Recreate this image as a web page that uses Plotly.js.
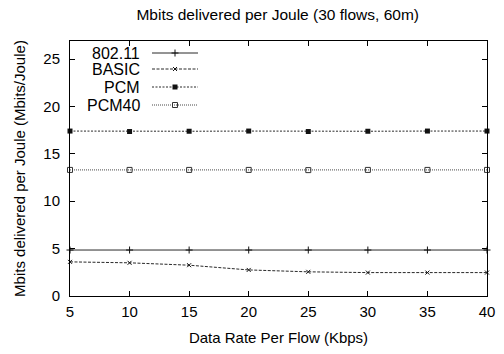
<!DOCTYPE html>
<html><head><meta charset="utf-8">
<script src="https://cdn.plot.ly/plotly-3.0.1.min.js"></script>
<style>html,body{margin:0;padding:0;background:#fff}#chart{width:504px;height:354px}</style>
</head><body><div id="chart"></div>
<script>
const rates = [5, 10, 15, 20, 25, 30, 35, 40];
const seriesNames = ["802.11", "BASIC", "PCM", "PCM40"];
const v80211 = [4.85, 4.85, 4.85, 4.85, 4.85, 4.85, 4.85, 4.85];
const vBasic = [3.6, 3.5, 3.25, 2.75, 2.55, 2.47, 2.47, 2.47];
const vPcm = [17.4, 17.35, 17.38, 17.4, 17.35, 17.38, 17.4, 17.4];
const vPcm40 = [13.3, 13.3, 13.3, 13.3, 13.28, 13.3, 13.3, 13.3];
const xTicks = [5, 10, 15, 20, 25, 30, 35, 40];
const yTicks = [0, 5, 10, 15, 20, 25];

const styles = [
  {dash: "solid", symbol: "cross-thin", color: "#111", size: 5, lw: 1},
  {dash: "3px,1.5px", symbol: "x-thin", color: "#111", size: 4, lw: 1},
  {dash: "2px,1.5px", symbol: "square", color: "#111", size: 5, lw: 0},
  {dash: "1px,1px", symbol: "square-open", color: "#333", size: 5, lw: 1}
];
const values = [v80211, vBasic, vPcm, vPcm40];

const traces = [];
values.forEach((vals, i) => {
  const s = styles[i];
  traces.push({
    x: rates, y: vals, type: "scatter", mode: "lines+markers", name: seriesNames[i],
    line: {color: s.color, width: 0.9, dash: s.dash},
    marker: {symbol: s.symbol, size: s.size, color: s.color, line: {color: s.color, width: s.lw}},
    showlegend: false, cliponaxis: false
  });
});

// gnuplot-style key (text left, sample right) on an overlay pixel-scaled axis
const rowY = [243, 227, 209, 191];
const annotations = [];
values.forEach((vals, i) => {
  const s = styles[i];
  traces.push({
    x: [82, 128], y: [rowY[i], rowY[i]], xaxis: "x2", yaxis: "y2",
    type: "scatter", mode: "lines", showlegend: false, hoverinfo: "skip",
    line: {color: s.color, width: 0.9, dash: s.dash}
  });
  traces.push({
    x: [105], y: [rowY[i]], xaxis: "x2", yaxis: "y2", type: "scatter", mode: "markers",
    showlegend: false, hoverinfo: "skip",
    marker: {symbol: s.symbol, size: s.size, color: s.color, line: {color: s.color, width: s.lw}}
  });
  annotations.push({
    x: 72, y: rowY[i], xref: "x2", yref: "y2", text: seriesNames[i], showarrow: false,
    xanchor: "right", yanchor: "middle", font: {size: 16, color: "#000"}
  });
});

const font = {family: "Liberation Sans, Arial, Helvetica, sans-serif", size: 15, color: "#000"};
const layout = {
  width: 504, height: 354,
  margin: {l: 70, r: 17, t: 41, b: 58},
  paper_bgcolor: "#fff", plot_bgcolor: "#fff",
  font: font,
  showlegend: false,
  title: {text: "Mbits delivered per Joule (30 flows, 60m)", x: 0.551, xanchor: "center", y: 0.958, yanchor: "middle", font: {size: 15.5}},
  xaxis: {
    range: [5, 40], tickvals: xTicks, ticktext: xTicks.map(String),
    ticks: "inside", ticklen: 5, tickcolor: "#000", tickwidth: 1,
    showline: true, linecolor: "#000", linewidth: 1, mirror: "allticks",
    showgrid: false, zeroline: false, tickfont: {size: 15}, ticklabelstandoff: 2,
    title: {text: "Data Rate Per Flow (Kbps)", standoff: 13, font: {size: 15}}
  },
  yaxis: {
    range: [0, 26.9], tickvals: yTicks, ticktext: yTicks.map(String),
    ticks: "inside", ticklen: 5, tickcolor: "#000", tickwidth: 1,
    showline: true, linecolor: "#000", linewidth: 1, mirror: "allticks",
    showgrid: false, zeroline: false, tickfont: {size: 15}, ticklabelstandoff: 6,
    title: {text: "Mbits delivered per Joule (Mbits/Joule)", standoff: 14, font: {size: 15}}
  },
  xaxis2: {overlaying: "x", range: [0, 417], visible: false, fixedrange: true},
  yaxis2: {overlaying: "y", range: [0, 255], visible: false, fixedrange: true},
  annotations: annotations
};
Plotly.newPlot("chart", traces, layout, {staticPlot: true, displayModeBar: false});
</script></body></html>
